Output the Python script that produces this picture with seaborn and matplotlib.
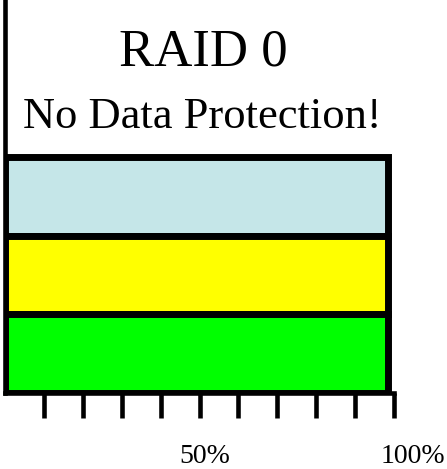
import matplotlib
matplotlib.use("Agg")
import matplotlib.pyplot as plt
import seaborn as sns
import pandas as pd

# data
disks = ["Disk 1", "Disk 2", "Disk 3"]
usage = [98.5, 98.5, 98.5]
bar_colors = ["#C5E6E8", "#FFFF00", "#00FF00"]
tick_pos = [10, 20, 30, 40, 50, 60, 70, 80, 90, 100]
label_pos = [51.4, 104.9]
label_txt = ["50%", "100%"]

sns.set_theme(style="white")
plt.rcParams["font.family"] = ["Liberation Serif", "DejaVu Serif"]

W, H = 447, 469
fig = plt.figure(figsize=(W / 100, H / 100), dpi=100)
# axes: x 0..100 maps to px 5..394, bottom at px 393, top at px 0
ax = fig.add_axes([5 / W, 1 - 393 / H, 389 / W, 393 / H])

df = pd.DataFrame({"disk": disks, "usage": usage})
sns.barplot(data=df, x="usage", y="disk", hue="disk", palette=bar_colors,
            orient="h", width=1.0, edgecolor="black", linewidth=5,
            saturation=1, legend=False, ax=ax)

bar_px = (393 - 157) / 3.0
ax.set_xlim(0, 100)
ax.set_ylim(2.5, -0.5 - 157 / bar_px)

for s in ["top", "right"]:
    ax.spines[s].set_visible(False)
for s in ["left", "bottom"]:
    ax.spines[s].set_color("black")
    ax.spines[s].set_linewidth(3.3)

ax.set_yticks([])
ax.set_xticks(tick_pos)
ax.set_xticklabels([""] * len(tick_pos))
ax.tick_params(axis="x", direction="out", length=18, width=3.3, color="black", bottom=True)
ax.set_xlabel("")
ax.set_ylabel("")

for x, t in zip(label_pos, label_txt):
    ax.text(x, (393 - 463) / 393, t, transform=ax.get_xaxis_transform(),
            ha="center", va="baseline", fontsize=20, color="black", clip_on=False)

fig.text(203 / W, 1 - 65 / H, "RAID 0", ha="center", va="baseline", fontsize=38, color="black")
fig.text(202 / W, 1 - 128 / H, "No Data Protection!", ha="center", va="baseline",
         fontsize=32, color="black")

fig.savefig("out.png", dpi=100)
